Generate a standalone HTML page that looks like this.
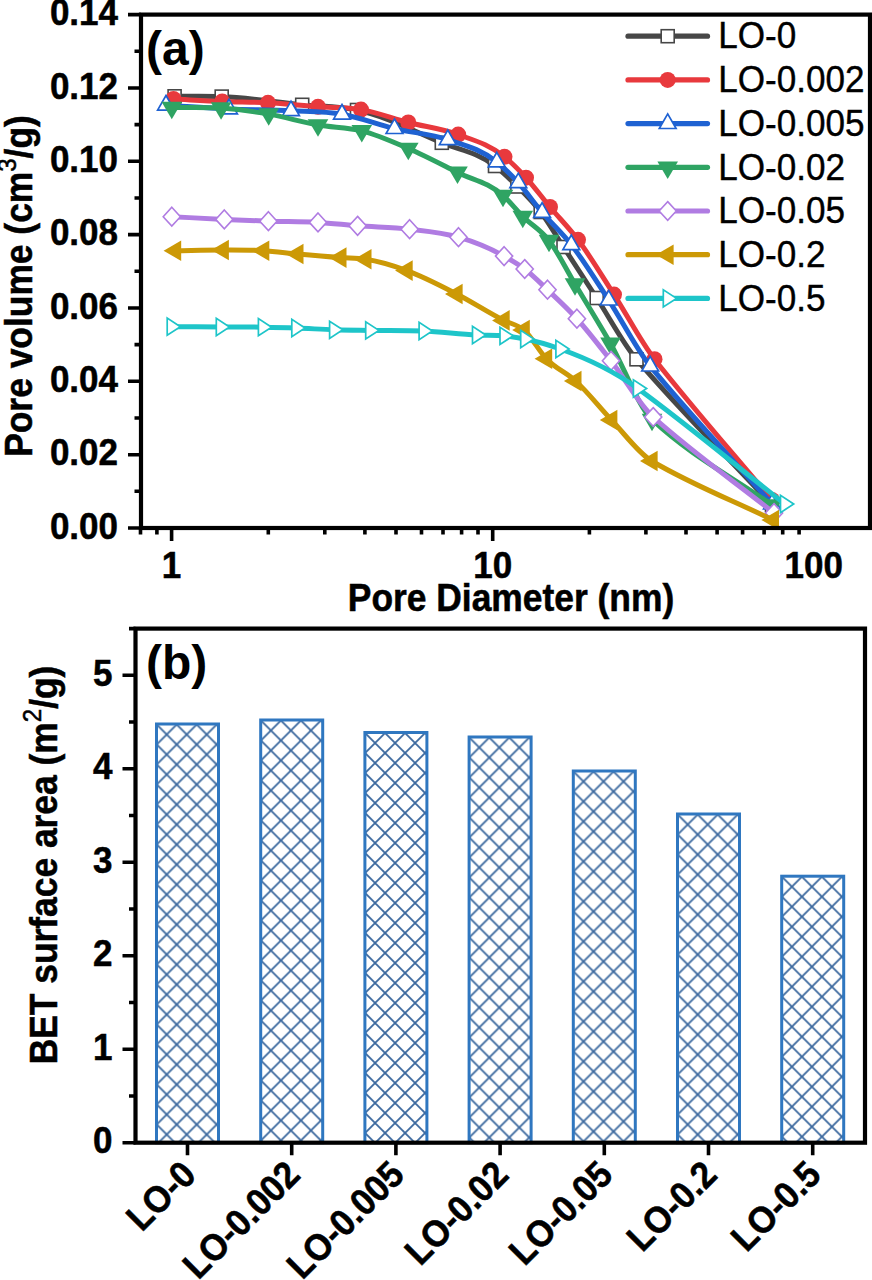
<!DOCTYPE html><html><head><meta charset="utf-8"><style>html,body{margin:0;padding:0;background:#fff;}svg{display:block;}</style></head><body>
<svg width="872" height="1280" viewBox="0 0 872 1280">
<rect width="872" height="1280" fill="#fff"/>
<defs><clipPath id="ca"><rect x="141.0" y="14.6" width="729.0" height="513.4"/></clipPath></defs>
<g clip-path="url(#ca)">
<path d="M174.60,96.30 C190.30,96.40 206.00,95.95 221.70,96.60 C248.53,97.72 275.37,102.18 302.20,104.80 C320.47,106.58 338.73,106.17 357.00,110.00 C385.27,115.92 413.53,131.01 441.80,142.80 C459.53,150.20 477.27,152.29 495.00,166.00 C502.47,171.77 509.93,179.01 517.40,186.50 C525.17,194.29 532.93,201.77 540.70,212.00 C548.30,222.01 555.90,235.33 563.50,247.00 C574.57,263.99 585.63,280.98 596.70,298.00 C609.97,318.40 623.23,343.80 636.50,359.30 C681.67,412.07 726.83,456.43 772.00,505.00" fill="none" stroke="#474747" stroke-width="5" stroke-linejoin="round" stroke-linecap="round"/>
<rect x="168.1" y="89.8" width="13.0" height="13.0" fill="#fff" stroke="#474747" stroke-width="1.6"/>
<rect x="215.2" y="90.1" width="13.0" height="13.0" fill="#fff" stroke="#474747" stroke-width="1.6"/>
<rect x="295.7" y="98.3" width="13.0" height="13.0" fill="#fff" stroke="#474747" stroke-width="1.6"/>
<rect x="350.5" y="103.5" width="13.0" height="13.0" fill="#fff" stroke="#474747" stroke-width="1.6"/>
<rect x="435.3" y="136.3" width="13.0" height="13.0" fill="#fff" stroke="#474747" stroke-width="1.6"/>
<rect x="488.5" y="159.5" width="13.0" height="13.0" fill="#fff" stroke="#474747" stroke-width="1.6"/>
<rect x="510.9" y="180.0" width="13.0" height="13.0" fill="#fff" stroke="#474747" stroke-width="1.6"/>
<rect x="534.2" y="205.5" width="13.0" height="13.0" fill="#fff" stroke="#474747" stroke-width="1.6"/>
<rect x="557.0" y="240.5" width="13.0" height="13.0" fill="#fff" stroke="#474747" stroke-width="1.6"/>
<rect x="590.2" y="291.5" width="13.0" height="13.0" fill="#fff" stroke="#474747" stroke-width="1.6"/>
<rect x="630.0" y="352.8" width="13.0" height="13.0" fill="#fff" stroke="#474747" stroke-width="1.6"/>
<rect x="765.5" y="498.5" width="13.0" height="13.0" fill="#fff" stroke="#474747" stroke-width="1.6"/>
<path d="M173.50,99.00 C189.73,99.83 205.97,100.86 222.20,101.50 C237.47,102.10 252.73,101.99 268.00,102.80 C284.67,103.68 301.33,105.60 318.00,106.80 C332.33,107.83 346.67,107.25 361.00,109.60 C376.77,112.19 392.53,118.43 408.30,122.50 C424.93,126.79 441.57,128.52 458.20,134.60 C473.63,140.24 489.07,144.21 504.50,156.80 C511.67,162.65 518.83,169.89 526.00,177.70 C534.00,186.42 542.00,197.42 550.00,207.00 C559.33,218.18 568.67,227.43 578.00,239.80 C590.00,255.70 602.00,275.92 614.00,294.60 C627.50,315.61 641.00,341.95 654.50,359.20 C693.67,409.24 732.83,453.07 772.00,500.00" fill="none" stroke="#e8393d" stroke-width="5" stroke-linejoin="round" stroke-linecap="round"/>
<circle cx="173.5" cy="99.0" r="8" fill="#e8393d"/>
<circle cx="222.2" cy="101.5" r="8" fill="#e8393d"/>
<circle cx="268.0" cy="102.8" r="8" fill="#e8393d"/>
<circle cx="318.0" cy="106.8" r="8" fill="#e8393d"/>
<circle cx="361.0" cy="109.6" r="8" fill="#e8393d"/>
<circle cx="408.3" cy="122.5" r="8" fill="#e8393d"/>
<circle cx="458.2" cy="134.6" r="8" fill="#e8393d"/>
<circle cx="504.5" cy="156.8" r="8" fill="#e8393d"/>
<circle cx="526.0" cy="177.7" r="8" fill="#e8393d"/>
<circle cx="550.0" cy="207.0" r="8" fill="#e8393d"/>
<circle cx="578.0" cy="239.8" r="8" fill="#e8393d"/>
<circle cx="614.0" cy="294.6" r="8" fill="#e8393d"/>
<circle cx="654.5" cy="359.2" r="8" fill="#e8393d"/>
<circle cx="772.0" cy="500.0" r="8" fill="#e8393d"/>
<path d="M166.00,105.20 C187.00,106.47 208.00,108.06 229.00,109.00 C249.67,109.92 270.33,109.77 291.00,110.80 C308.00,111.64 325.00,111.33 342.00,114.20 C359.50,117.16 377.00,124.37 394.50,128.60 C412.27,132.89 430.03,133.72 447.80,139.70 C464.13,145.20 480.47,148.75 496.80,162.00 C503.97,167.81 511.13,174.93 518.30,182.80 C526.23,191.52 534.17,203.02 542.10,212.40 C551.83,223.90 561.57,232.33 571.30,244.70 C583.77,260.54 596.23,280.99 608.70,300.10 C622.53,321.31 636.37,349.17 650.20,366.10 C690.80,415.79 731.40,458.03 772.00,504.00" fill="none" stroke="#1f62d2" stroke-width="5" stroke-linejoin="round" stroke-linecap="round"/>
<polygon points="166.0,95.5 174.4,110.1 157.6,110.1" fill="#fff" stroke="#1f62d2" stroke-width="1.7" stroke-linejoin="miter"/>
<polygon points="229.0,99.3 237.4,113.9 220.6,113.9" fill="#fff" stroke="#1f62d2" stroke-width="1.7" stroke-linejoin="miter"/>
<polygon points="291.0,101.1 299.4,115.7 282.6,115.7" fill="#fff" stroke="#1f62d2" stroke-width="1.7" stroke-linejoin="miter"/>
<polygon points="342.0,104.5 350.4,119.1 333.6,119.1" fill="#fff" stroke="#1f62d2" stroke-width="1.7" stroke-linejoin="miter"/>
<polygon points="394.5,118.9 402.9,133.5 386.1,133.5" fill="#fff" stroke="#1f62d2" stroke-width="1.7" stroke-linejoin="miter"/>
<polygon points="447.8,130.0 456.2,144.6 439.4,144.6" fill="#fff" stroke="#1f62d2" stroke-width="1.7" stroke-linejoin="miter"/>
<polygon points="496.8,152.3 505.2,166.9 488.4,166.9" fill="#fff" stroke="#1f62d2" stroke-width="1.7" stroke-linejoin="miter"/>
<polygon points="518.3,173.1 526.7,187.7 509.9,187.7" fill="#fff" stroke="#1f62d2" stroke-width="1.7" stroke-linejoin="miter"/>
<polygon points="542.1,202.7 550.5,217.3 533.7,217.3" fill="#fff" stroke="#1f62d2" stroke-width="1.7" stroke-linejoin="miter"/>
<polygon points="571.3,235.0 579.7,249.6 562.9,249.6" fill="#fff" stroke="#1f62d2" stroke-width="1.7" stroke-linejoin="miter"/>
<polygon points="608.7,290.4 617.1,305.0 600.3,305.0" fill="#fff" stroke="#1f62d2" stroke-width="1.7" stroke-linejoin="miter"/>
<polygon points="650.2,356.4 658.6,371.0 641.8,371.0" fill="#fff" stroke="#1f62d2" stroke-width="1.7" stroke-linejoin="miter"/>
<polygon points="772.0,494.3 780.4,508.9 763.6,508.9" fill="#fff" stroke="#1f62d2" stroke-width="1.7" stroke-linejoin="miter"/>
<path d="M171.80,107.50 C188.23,107.70 204.67,106.95 221.10,108.10 C236.97,109.21 252.83,111.36 268.70,114.10 C285.13,116.94 301.57,122.12 318.00,125.00 C332.60,127.56 347.20,127.21 361.80,130.90 C377.30,134.82 392.80,141.83 408.30,148.50 C424.70,155.56 441.10,164.25 457.50,172.40 C472.67,179.94 487.83,181.96 503.00,195.50 C509.60,201.39 516.20,209.91 522.80,216.50 C531.53,225.22 540.27,229.18 549.00,240.50 C557.67,251.73 566.33,269.50 575.00,284.00 C586.83,303.80 598.67,322.72 610.50,343.40 C624.33,367.57 638.17,406.54 652.00,419.50 C692.00,456.97 732.00,476.50 772.00,505.00" fill="none" stroke="#2fa463" stroke-width="5" stroke-linejoin="round" stroke-linecap="round"/>
<polygon points="171.8,119.2 182.1,101.7 161.5,101.7" fill="#2fa463"/>
<polygon points="221.1,119.8 231.4,102.3 210.8,102.3" fill="#2fa463"/>
<polygon points="268.7,125.8 279.0,108.3 258.4,108.3" fill="#2fa463"/>
<polygon points="318.0,136.7 328.3,119.2 307.7,119.2" fill="#2fa463"/>
<polygon points="361.8,142.6 372.1,125.1 351.5,125.1" fill="#2fa463"/>
<polygon points="408.3,160.2 418.6,142.7 398.0,142.7" fill="#2fa463"/>
<polygon points="457.5,184.1 467.8,166.6 447.2,166.6" fill="#2fa463"/>
<polygon points="503.0,207.2 513.3,189.7 492.7,189.7" fill="#2fa463"/>
<polygon points="522.8,228.2 533.1,210.7 512.5,210.7" fill="#2fa463"/>
<polygon points="549.0,252.2 559.3,234.7 538.7,234.7" fill="#2fa463"/>
<polygon points="575.0,295.7 585.3,278.2 564.7,278.2" fill="#2fa463"/>
<polygon points="610.5,355.1 620.8,337.6 600.2,337.6" fill="#2fa463"/>
<polygon points="652.0,431.2 662.3,413.7 641.7,413.7" fill="#2fa463"/>
<polygon points="772.0,516.7 782.3,499.2 761.7,499.2" fill="#2fa463"/>
<path d="M171.80,216.70 C189.30,217.60 206.80,218.60 224.30,219.40 C239.00,220.07 253.70,220.72 268.40,221.20 C284.93,221.75 301.47,221.43 318.00,222.40 C331.20,223.17 344.40,224.78 357.60,225.80 C374.93,227.13 392.27,227.19 409.60,229.20 C425.90,231.09 442.20,232.42 458.50,237.20 C473.70,241.66 488.90,247.58 504.10,256.10 C510.97,259.95 517.83,263.78 524.70,269.00 C532.30,274.78 539.90,282.54 547.50,289.70 C557.30,298.93 567.10,307.91 576.90,318.70 C588.27,331.22 599.63,346.27 611.00,360.80 C625.07,378.78 639.13,404.31 653.20,417.00 C693.47,453.33 733.73,481.00 774.00,513.00" fill="none" stroke="#b07ce2" stroke-width="5" stroke-linejoin="round" stroke-linecap="round"/>
<polygon points="171.8,207.3 180.4,216.7 171.8,226.1 163.2,216.7" fill="#fff" stroke="#b07ce2" stroke-width="1.6"/>
<polygon points="224.3,210.0 232.9,219.4 224.3,228.8 215.7,219.4" fill="#fff" stroke="#b07ce2" stroke-width="1.6"/>
<polygon points="268.4,211.8 277.0,221.2 268.4,230.6 259.8,221.2" fill="#fff" stroke="#b07ce2" stroke-width="1.6"/>
<polygon points="318.0,213.0 326.6,222.4 318.0,231.8 309.4,222.4" fill="#fff" stroke="#b07ce2" stroke-width="1.6"/>
<polygon points="357.6,216.4 366.2,225.8 357.6,235.2 349.0,225.8" fill="#fff" stroke="#b07ce2" stroke-width="1.6"/>
<polygon points="409.6,219.8 418.2,229.2 409.6,238.6 401.0,229.2" fill="#fff" stroke="#b07ce2" stroke-width="1.6"/>
<polygon points="458.5,227.8 467.1,237.2 458.5,246.6 449.9,237.2" fill="#fff" stroke="#b07ce2" stroke-width="1.6"/>
<polygon points="504.1,246.7 512.7,256.1 504.1,265.5 495.5,256.1" fill="#fff" stroke="#b07ce2" stroke-width="1.6"/>
<polygon points="524.7,259.6 533.3,269.0 524.7,278.4 516.1,269.0" fill="#fff" stroke="#b07ce2" stroke-width="1.6"/>
<polygon points="547.5,280.3 556.1,289.7 547.5,299.1 538.9,289.7" fill="#fff" stroke="#b07ce2" stroke-width="1.6"/>
<polygon points="576.9,309.3 585.5,318.7 576.9,328.1 568.3,318.7" fill="#fff" stroke="#b07ce2" stroke-width="1.6"/>
<polygon points="611.0,351.4 619.6,360.8 611.0,370.2 602.4,360.8" fill="#fff" stroke="#b07ce2" stroke-width="1.6"/>
<polygon points="653.2,407.6 661.8,417.0 653.2,426.4 644.6,417.0" fill="#fff" stroke="#b07ce2" stroke-width="1.6"/>
<polygon points="774.0,503.6 782.6,513.0 774.0,522.4 765.4,513.0" fill="#fff" stroke="#b07ce2" stroke-width="1.6"/>
<path d="M175.30,250.70 C191.20,250.47 207.10,249.96 223.00,250.00 C236.47,250.04 249.93,249.89 263.40,250.70 C274.80,251.39 286.20,252.96 297.60,254.00 C311.93,255.30 326.27,256.54 340.60,257.60 C348.93,258.21 357.27,258.08 365.60,259.30 C379.33,261.30 393.07,265.62 406.80,270.60 C423.43,276.63 440.07,285.42 456.70,294.00 C472.40,302.10 488.10,312.51 503.80,320.40 C510.50,323.77 517.20,324.25 523.90,330.00 C531.37,336.40 538.83,350.82 546.30,358.70 C556.07,369.01 565.83,372.14 575.60,381.00 C587.57,391.86 599.53,407.38 611.50,420.00 C624.90,434.14 638.30,453.06 651.70,461.00 C692.17,484.99 732.63,500.33 773.10,520.00" fill="none" stroke="#cc9906" stroke-width="5" stroke-linejoin="round" stroke-linecap="round"/>
<polygon points="163.6,250.7 181.2,240.4 181.2,261.0" fill="#cc9906"/>
<polygon points="211.3,250.0 228.9,239.7 228.9,260.3" fill="#cc9906"/>
<polygon points="251.7,250.7 269.3,240.4 269.3,261.0" fill="#cc9906"/>
<polygon points="285.9,254.0 303.5,243.7 303.5,264.3" fill="#cc9906"/>
<polygon points="328.9,257.6 346.5,247.3 346.5,267.9" fill="#cc9906"/>
<polygon points="353.9,259.3 371.5,249.0 371.5,269.6" fill="#cc9906"/>
<polygon points="395.1,270.6 412.7,260.3 412.7,280.9" fill="#cc9906"/>
<polygon points="445.0,294.0 462.6,283.7 462.6,304.3" fill="#cc9906"/>
<polygon points="492.1,320.4 509.7,310.1 509.7,330.7" fill="#cc9906"/>
<polygon points="512.2,330.0 529.8,319.7 529.8,340.3" fill="#cc9906"/>
<polygon points="534.6,358.7 552.2,348.4 552.2,369.0" fill="#cc9906"/>
<polygon points="563.9,381.0 581.5,370.7 581.5,391.3" fill="#cc9906"/>
<polygon points="599.8,420.0 617.4,409.7 617.4,430.3" fill="#cc9906"/>
<polygon points="640.0,461.0 657.6,450.7 657.6,471.3" fill="#cc9906"/>
<polygon points="761.4,520.0 779.0,509.7 779.0,530.3" fill="#cc9906"/>
<path d="M171.60,326.70 C187.97,326.80 204.33,326.91 220.70,327.00 C234.73,327.08 248.77,326.98 262.80,327.20 C273.93,327.37 285.07,327.61 296.20,328.00 C308.80,328.44 321.40,329.40 334.00,329.80 C346.03,330.18 358.07,330.23 370.10,330.40 C387.90,330.66 405.70,330.23 423.50,331.00 C441.30,331.77 459.10,334.20 476.90,335.00 C486.07,335.41 495.23,334.88 504.40,335.80 C511.30,336.49 518.20,337.60 525.10,339.00 C536.83,341.38 548.57,344.84 560.30,349.00 C586.13,358.16 611.97,369.64 637.80,388.50 C686.83,424.30 735.87,465.50 784.90,504.00" fill="none" stroke="#1ec5c9" stroke-width="5" stroke-linejoin="round" stroke-linecap="round"/>
<polygon points="180.4,326.7 167.2,318.1 167.2,335.3" fill="#fff" stroke="#1ec5c9" stroke-width="1.7"/>
<polygon points="229.5,327.0 216.3,318.4 216.3,335.6" fill="#fff" stroke="#1ec5c9" stroke-width="1.7"/>
<polygon points="271.6,327.2 258.4,318.6 258.4,335.8" fill="#fff" stroke="#1ec5c9" stroke-width="1.7"/>
<polygon points="305.0,328.0 291.8,319.4 291.8,336.6" fill="#fff" stroke="#1ec5c9" stroke-width="1.7"/>
<polygon points="342.8,329.8 329.6,321.2 329.6,338.4" fill="#fff" stroke="#1ec5c9" stroke-width="1.7"/>
<polygon points="378.9,330.4 365.7,321.8 365.7,339.0" fill="#fff" stroke="#1ec5c9" stroke-width="1.7"/>
<polygon points="432.3,331.0 419.1,322.4 419.1,339.6" fill="#fff" stroke="#1ec5c9" stroke-width="1.7"/>
<polygon points="485.7,335.0 472.5,326.4 472.5,343.6" fill="#fff" stroke="#1ec5c9" stroke-width="1.7"/>
<polygon points="513.2,335.8 500.0,327.2 500.0,344.4" fill="#fff" stroke="#1ec5c9" stroke-width="1.7"/>
<polygon points="533.9,339.0 520.7,330.4 520.7,347.6" fill="#fff" stroke="#1ec5c9" stroke-width="1.7"/>
<polygon points="569.1,349.0 555.9,340.4 555.9,357.6" fill="#fff" stroke="#1ec5c9" stroke-width="1.7"/>
<polygon points="646.6,388.5 633.4,379.9 633.4,397.1" fill="#fff" stroke="#1ec5c9" stroke-width="1.7"/>
<polygon points="793.7,504.0 780.5,495.4 780.5,512.6" fill="#fff" stroke="#1ec5c9" stroke-width="1.7"/>
</g>
<g stroke="#000" stroke-width="4.2" fill="none" stroke-linecap="square">
<rect x="141.0" y="14.6" width="729.0" height="513.4"/>
</g>
<path d="M128.0,528.0H141.0M134.5,491.3H141.0M128.0,454.7H141.0M134.5,418.0H141.0M128.0,381.3H141.0M134.5,344.6H141.0M128.0,308.0H141.0M134.5,271.3H141.0M128.0,234.6H141.0M134.5,198.0H141.0M128.0,161.3H141.0M134.5,124.6H141.0M128.0,88.0H141.0M134.5,51.3H141.0M128.0,14.6H141.0M140.5,528.0V534.5M156.9,528.0V534.5M171.6,528.0V541.0M268.3,528.0V534.5M324.8,528.0V534.5M364.9,528.0V534.5M396.0,528.0V534.5M421.5,528.0V534.5M443.0,528.0V534.5M461.6,528.0V534.5M478.0,528.0V534.5M492.7,528.0V541.0M589.4,528.0V534.5M645.9,528.0V534.5M686.0,528.0V534.5M717.1,528.0V534.5M742.6,528.0V534.5M764.1,528.0V534.5M782.7,528.0V534.5M799.1,528.0V534.5" stroke="#000" stroke-width="3.6" fill="none"/>
<text transform="translate(118.00,538.80) rotate(0) scale(1,1.070)" text-anchor="end" font-family='"Liberation Sans", sans-serif' font-weight="bold" font-size="35.00" stroke="#000" stroke-width="0.50">0.00</text>
<text transform="translate(118.00,465.46) rotate(0) scale(1,1.070)" text-anchor="end" font-family='"Liberation Sans", sans-serif' font-weight="bold" font-size="35.00" stroke="#000" stroke-width="0.50">0.02</text>
<text transform="translate(118.00,392.12) rotate(0) scale(1,1.070)" text-anchor="end" font-family='"Liberation Sans", sans-serif' font-weight="bold" font-size="35.00" stroke="#000" stroke-width="0.50">0.04</text>
<text transform="translate(118.00,318.78) rotate(0) scale(1,1.070)" text-anchor="end" font-family='"Liberation Sans", sans-serif' font-weight="bold" font-size="35.00" stroke="#000" stroke-width="0.50">0.06</text>
<text transform="translate(118.00,245.44) rotate(0) scale(1,1.070)" text-anchor="end" font-family='"Liberation Sans", sans-serif' font-weight="bold" font-size="35.00" stroke="#000" stroke-width="0.50">0.08</text>
<text transform="translate(118.00,172.10) rotate(0) scale(1,1.070)" text-anchor="end" font-family='"Liberation Sans", sans-serif' font-weight="bold" font-size="35.00" stroke="#000" stroke-width="0.50">0.10</text>
<text transform="translate(118.00,98.76) rotate(0) scale(1,1.070)" text-anchor="end" font-family='"Liberation Sans", sans-serif' font-weight="bold" font-size="35.00" stroke="#000" stroke-width="0.50">0.12</text>
<text transform="translate(118.00,25.42) rotate(0) scale(1,1.070)" text-anchor="end" font-family='"Liberation Sans", sans-serif' font-weight="bold" font-size="35.00" stroke="#000" stroke-width="0.50">0.14</text>
<text transform="translate(171.60,578.30) rotate(0) scale(1,1.070)" text-anchor="middle" font-family='"Liberation Sans", sans-serif' font-weight="bold" font-size="35.00" stroke="#000" stroke-width="0.50">1</text>
<text transform="translate(492.70,578.30) rotate(0) scale(1,1.070)" text-anchor="middle" font-family='"Liberation Sans", sans-serif' font-weight="bold" font-size="35.00" stroke="#000" stroke-width="0.50">10</text>
<text transform="translate(813.80,578.30) rotate(0) scale(1,1.070)" text-anchor="middle" font-family='"Liberation Sans", sans-serif' font-weight="bold" font-size="35.00" stroke="#000" stroke-width="0.50">100</text>
<text transform="translate(511.00,611.30) rotate(0) scale(1,1.070)" text-anchor="middle" font-family='"Liberation Sans", sans-serif' font-weight="bold" font-size="35.40" stroke="#000" stroke-width="0.50">Pore Diameter (nm)</text>
<text transform="translate(32.00,286.00) rotate(-90) scale(1,1.070)" text-anchor="middle" font-family='"Liberation Sans", sans-serif' font-weight="bold" font-size="35.40" stroke="#000" stroke-width="0.50">Pore volume (cm<tspan font-size="24" font-weight="normal" dy="-14.5">3</tspan><tspan dy="14.5">/g)</tspan></text>
<text x="146" y="65" font-family='"Liberation Sans", sans-serif' font-weight="bold" font-size="48">(a)</text>
<line x1="628" y1="36.2" x2="707.5" y2="36.2" stroke="#474747" stroke-width="5.2" stroke-linecap="round"/>
<rect x="661.2" y="29.7" width="13.0" height="13.0" fill="#fff" stroke="#474747" stroke-width="1.6"/>
<text transform="translate(718.30,48.40) rotate(0) scale(1,1.050)" text-anchor="start" font-family='"Liberation Sans", sans-serif' font-weight="normal" font-size="35.10" stroke="#000" stroke-width="0.40">LO-0</text>
<line x1="628" y1="79.9" x2="707.5" y2="79.9" stroke="#e8393d" stroke-width="5.2" stroke-linecap="round"/>
<circle cx="667.7" cy="79.9" r="8" fill="#e8393d"/>
<text transform="translate(718.30,92.10) rotate(0) scale(1,1.050)" text-anchor="start" font-family='"Liberation Sans", sans-serif' font-weight="normal" font-size="35.10" stroke="#000" stroke-width="0.40">LO-0.002</text>
<line x1="628" y1="123.6" x2="707.5" y2="123.6" stroke="#1f62d2" stroke-width="5.2" stroke-linecap="round"/>
<polygon points="667.7,113.9 676.1,128.5 659.3,128.5" fill="#fff" stroke="#1f62d2" stroke-width="1.7" stroke-linejoin="miter"/>
<text transform="translate(718.30,135.80) rotate(0) scale(1,1.050)" text-anchor="start" font-family='"Liberation Sans", sans-serif' font-weight="normal" font-size="35.10" stroke="#000" stroke-width="0.40">LO-0.005</text>
<line x1="628" y1="167.3" x2="707.5" y2="167.3" stroke="#2fa463" stroke-width="5.2" stroke-linecap="round"/>
<polygon points="667.7,179.0 678.0,161.5 657.4,161.5" fill="#2fa463"/>
<text transform="translate(718.30,179.50) rotate(0) scale(1,1.050)" text-anchor="start" font-family='"Liberation Sans", sans-serif' font-weight="normal" font-size="35.10" stroke="#000" stroke-width="0.40">LO-0.02</text>
<line x1="628" y1="211.0" x2="707.5" y2="211.0" stroke="#b07ce2" stroke-width="5.2" stroke-linecap="round"/>
<polygon points="667.7,201.6 676.3,211.0 667.7,220.4 659.1,211.0" fill="#fff" stroke="#b07ce2" stroke-width="1.6"/>
<text transform="translate(718.30,223.20) rotate(0) scale(1,1.050)" text-anchor="start" font-family='"Liberation Sans", sans-serif' font-weight="normal" font-size="35.10" stroke="#000" stroke-width="0.40">LO-0.05</text>
<line x1="628" y1="254.7" x2="707.5" y2="254.7" stroke="#cc9906" stroke-width="5.2" stroke-linecap="round"/>
<polygon points="656.0,254.7 673.6,244.4 673.6,265.0" fill="#cc9906"/>
<text transform="translate(718.30,266.90) rotate(0) scale(1,1.050)" text-anchor="start" font-family='"Liberation Sans", sans-serif' font-weight="normal" font-size="35.10" stroke="#000" stroke-width="0.40">LO-0.2</text>
<line x1="628" y1="298.4" x2="707.5" y2="298.4" stroke="#1ec5c9" stroke-width="5.2" stroke-linecap="round"/>
<polygon points="676.5,298.4 663.3,289.8 663.3,307.0" fill="#fff" stroke="#1ec5c9" stroke-width="1.7"/>
<text transform="translate(718.30,310.60) rotate(0) scale(1,1.050)" text-anchor="start" font-family='"Liberation Sans", sans-serif' font-weight="normal" font-size="35.10" stroke="#000" stroke-width="0.40">LO-0.5</text>
<defs>
<pattern id="h0" patternUnits="userSpaceOnUse" x="176.70" y="724.50" width="20.0" height="20.0"><path d="M0,0L20.0,20.0M20.0,0L0,20.0M-2,-2L2,2M18.0,18.0L22.0,22.0" stroke="#3b689e" stroke-width="1.8" fill="none"/></pattern>
<pattern id="h1" patternUnits="userSpaceOnUse" x="280.90" y="720.48" width="20.0" height="20.0"><path d="M0,0L20.0,20.0M20.0,0L0,20.0M-2,-2L2,2M18.0,18.0L22.0,22.0" stroke="#3b689e" stroke-width="1.8" fill="none"/></pattern>
<pattern id="h2" patternUnits="userSpaceOnUse" x="385.10" y="733.01" width="20.0" height="20.0"><path d="M0,0L20.0,20.0M20.0,0L0,20.0M-2,-2L2,2M18.0,18.0L22.0,22.0" stroke="#3b689e" stroke-width="1.8" fill="none"/></pattern>
<pattern id="h3" patternUnits="userSpaceOnUse" x="489.30" y="737.50" width="20.0" height="20.0"><path d="M0,0L20.0,20.0M20.0,0L0,20.0M-2,-2L2,2M18.0,18.0L22.0,22.0" stroke="#3b689e" stroke-width="1.8" fill="none"/></pattern>
<pattern id="h4" patternUnits="userSpaceOnUse" x="593.50" y="771.52" width="20.0" height="20.0"><path d="M0,0L20.0,20.0M20.0,0L0,20.0M-2,-2L2,2M18.0,18.0L22.0,22.0" stroke="#3b689e" stroke-width="1.8" fill="none"/></pattern>
<pattern id="h5" patternUnits="userSpaceOnUse" x="697.70" y="814.52" width="20.0" height="20.0"><path d="M0,0L20.0,20.0M20.0,0L0,20.0M-2,-2L2,2M18.0,18.0L22.0,22.0" stroke="#3b689e" stroke-width="1.8" fill="none"/></pattern>
<pattern id="h6" patternUnits="userSpaceOnUse" x="801.90" y="876.69" width="20.0" height="20.0"><path d="M0,0L20.0,20.0M20.0,0L0,20.0M-2,-2L2,2M18.0,18.0L22.0,22.0" stroke="#3b689e" stroke-width="1.8" fill="none"/></pattern>
</defs>
<rect x="156.5" y="724.0" width="62.0" height="418.7" fill="url(#h0)" stroke="#2f77c0" stroke-width="3"/>
<rect x="260.7" y="720.0" width="62.0" height="422.7" fill="url(#h1)" stroke="#2f77c0" stroke-width="3"/>
<rect x="364.9" y="732.5" width="62.0" height="410.2" fill="url(#h2)" stroke="#2f77c0" stroke-width="3"/>
<rect x="469.1" y="737.0" width="62.0" height="405.7" fill="url(#h3)" stroke="#2f77c0" stroke-width="3"/>
<rect x="573.3" y="771.0" width="62.0" height="371.7" fill="url(#h4)" stroke="#2f77c0" stroke-width="3"/>
<rect x="677.5" y="814.0" width="62.0" height="328.7" fill="url(#h5)" stroke="#2f77c0" stroke-width="3"/>
<rect x="781.7" y="876.2" width="62.0" height="266.5" fill="url(#h6)" stroke="#2f77c0" stroke-width="3"/>
<rect x="135.5" y="628.6" width="729.5" height="514.1" stroke="#000" stroke-width="4.2" fill="none"/>
<path d="M122.5,1142.7H135.5M129.0,1096.0H135.5M122.5,1049.2H135.5M129.0,1002.5H135.5M122.5,955.7H135.5M129.0,909.0H135.5M122.5,862.3H135.5M129.0,815.5H135.5M122.5,768.8H135.5M129.0,722.0H135.5M122.5,675.3H135.5M129.0,628.6H135.5M187.5,1142.7V1155.2M291.7,1142.7V1155.2M395.9,1142.7V1155.2M500.1,1142.7V1155.2M604.3,1142.7V1155.2M708.5,1142.7V1155.2M812.7,1142.7V1155.2" stroke="#000" stroke-width="3.6" fill="none"/>
<text transform="translate(112.50,1153.20) rotate(0) scale(1,1.070)" text-anchor="end" font-family='"Liberation Sans", sans-serif' font-weight="bold" font-size="35.00" stroke="#000" stroke-width="0.50">0</text>
<text transform="translate(112.50,1059.72) rotate(0) scale(1,1.070)" text-anchor="end" font-family='"Liberation Sans", sans-serif' font-weight="bold" font-size="35.00" stroke="#000" stroke-width="0.50">1</text>
<text transform="translate(112.50,966.24) rotate(0) scale(1,1.070)" text-anchor="end" font-family='"Liberation Sans", sans-serif' font-weight="bold" font-size="35.00" stroke="#000" stroke-width="0.50">2</text>
<text transform="translate(112.50,872.76) rotate(0) scale(1,1.070)" text-anchor="end" font-family='"Liberation Sans", sans-serif' font-weight="bold" font-size="35.00" stroke="#000" stroke-width="0.50">3</text>
<text transform="translate(112.50,779.28) rotate(0) scale(1,1.070)" text-anchor="end" font-family='"Liberation Sans", sans-serif' font-weight="bold" font-size="35.00" stroke="#000" stroke-width="0.50">4</text>
<text transform="translate(112.50,685.80) rotate(0) scale(1,1.070)" text-anchor="end" font-family='"Liberation Sans", sans-serif' font-weight="bold" font-size="35.00" stroke="#000" stroke-width="0.50">5</text>
<text transform="translate(56.60,865.00) rotate(-90) scale(1,1.070)" text-anchor="middle" font-family='"Liberation Sans", sans-serif' font-weight="bold" font-size="35.40" stroke="#000" stroke-width="0.50">BET surface area (m<tspan font-size="24" font-weight="normal" dy="-14.5">2</tspan><tspan dy="14.5">/g)</tspan></text>
<text x="146" y="678.5" font-family='"Liberation Sans", sans-serif' font-weight="bold" font-size="48">(b)</text>
<g transform="translate(189.0,1168) rotate(-45)"><text transform="translate(0.00,12.50) rotate(0) scale(1,1.070)" text-anchor="end" font-family='"Liberation Sans", sans-serif' font-weight="bold" font-size="34.80" stroke="#000" stroke-width="0.50">LO-0</text></g>
<g transform="translate(293.2,1168) rotate(-45)"><text transform="translate(0.00,12.50) rotate(0) scale(1,1.070)" text-anchor="end" font-family='"Liberation Sans", sans-serif' font-weight="bold" font-size="34.80" stroke="#000" stroke-width="0.50">LO-0.002</text></g>
<g transform="translate(397.4,1168) rotate(-45)"><text transform="translate(0.00,12.50) rotate(0) scale(1,1.070)" text-anchor="end" font-family='"Liberation Sans", sans-serif' font-weight="bold" font-size="34.80" stroke="#000" stroke-width="0.50">LO-0.005</text></g>
<g transform="translate(501.6,1168) rotate(-45)"><text transform="translate(0.00,12.50) rotate(0) scale(1,1.070)" text-anchor="end" font-family='"Liberation Sans", sans-serif' font-weight="bold" font-size="34.80" stroke="#000" stroke-width="0.50">LO-0.02</text></g>
<g transform="translate(605.8,1168) rotate(-45)"><text transform="translate(0.00,12.50) rotate(0) scale(1,1.070)" text-anchor="end" font-family='"Liberation Sans", sans-serif' font-weight="bold" font-size="34.80" stroke="#000" stroke-width="0.50">LO-0.05</text></g>
<g transform="translate(710.0,1168) rotate(-45)"><text transform="translate(0.00,12.50) rotate(0) scale(1,1.070)" text-anchor="end" font-family='"Liberation Sans", sans-serif' font-weight="bold" font-size="34.80" stroke="#000" stroke-width="0.50">LO-0.2</text></g>
<g transform="translate(814.2,1168) rotate(-45)"><text transform="translate(0.00,12.50) rotate(0) scale(1,1.070)" text-anchor="end" font-family='"Liberation Sans", sans-serif' font-weight="bold" font-size="34.80" stroke="#000" stroke-width="0.50">LO-0.5</text></g>
</svg></body></html>
